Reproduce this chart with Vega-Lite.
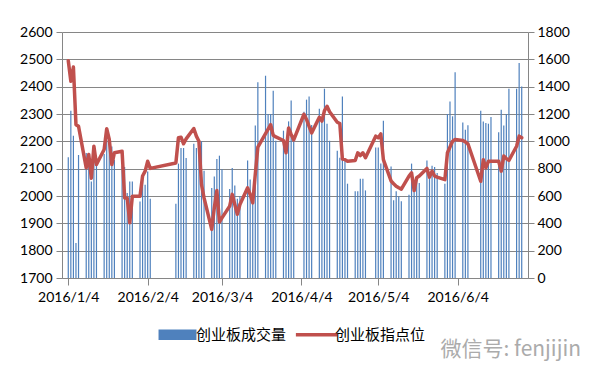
{
  "$schema": "https://vega.github.io/schema/vega-lite/v6.json",
  "width": 466,
  "height": 246,
  "autosize": {"type": "none"},
  "padding": {"left": 62, "top": 32, "right": 67, "bottom": 95},
  "background": "white",
  "title": {"text": "微信号: fenjijin", "orient": "bottom", "anchor": "end", "frame": "group", "font": "Noto Sans CJK SC", "fontSize": 21, "fontWeight": "normal", "color": "#ABABAB", "offset": -4, "dx": 53},
  "config": {
    "view": {"stroke": null},
    "axis": {"labelFont": "Lato", "labelFontSize": 14, "labelColor": "#000000", "domainColor": "#868686", "tickColor": "#868686", "gridColor": "#868686", "gridOpacity": 1, "domainWidth": 1, "tickWidth": 1, "gridWidth": 1, "tickSize": 6, "title": null}
  },
  "data": {"values": [
    {"date": "2016-01-04", "vol": 883, "idx": 2495},
    {"date": "2016-01-05", "vol": 1224, "idx": 2420},
    {"date": "2016-01-06", "vol": 1041, "idx": 2472},
    {"date": "2016-01-07", "vol": 256, "idx": 2261},
    {"date": "2016-01-08", "vol": 900, "idx": 2255},
    {"date": "2016-01-11", "vol": 915, "idx": 2103},
    {"date": "2016-01-12", "vol": 900, "idx": 2152},
    {"date": "2016-01-13", "vol": 707, "idx": 2065},
    {"date": "2016-01-14", "vol": 946, "idx": 2182},
    {"date": "2016-01-15", "vol": 829, "idx": 2115},
    {"date": "2016-01-18", "vol": 907, "idx": 2170},
    {"date": "2016-01-19", "vol": 1012, "idx": 2246},
    {"date": "2016-01-20", "vol": 1012, "idx": 2207},
    {"date": "2016-01-21", "vol": 963, "idx": 2115},
    {"date": "2016-01-22", "vol": 866, "idx": 2158},
    {"date": "2016-01-25", "vol": 817, "idx": 2164},
    {"date": "2016-01-26", "vol": 812, "idx": 1993},
    {"date": "2016-01-27", "vol": 622, "idx": 1993},
    {"date": "2016-01-28", "vol": 707, "idx": 1902},
    {"date": "2016-01-29", "vol": 707, "idx": 1999},
    {"date": "2016-02-01", "vol": 560, "idx": 1999},
    {"date": "2016-02-02", "vol": 750, "idx": 2073},
    {"date": "2016-02-03", "vol": 683, "idx": 2091},
    {"date": "2016-02-04", "vol": 780, "idx": 2127},
    {"date": "2016-02-05", "vol": 580, "idx": 2101},
    {"date": "2016-02-15", "vol": 544, "idx": 2121},
    {"date": "2016-02-16", "vol": 837, "idx": 2213},
    {"date": "2016-02-17", "vol": 951, "idx": 2215},
    {"date": "2016-02-18", "vol": 951, "idx": 2191},
    {"date": "2016-02-19", "vol": 878, "idx": 2209},
    {"date": "2016-02-22", "vol": 983, "idx": 2247},
    {"date": "2016-02-23", "vol": 951, "idx": 2219},
    {"date": "2016-02-24", "vol": 1012, "idx": 2200},
    {"date": "2016-02-25", "vol": 1000, "idx": 2042},
    {"date": "2016-02-26", "vol": 785, "idx": 1993},
    {"date": "2016-02-29", "vol": 658, "idx": 1878},
    {"date": "2016-03-01", "vol": 743, "idx": 1957},
    {"date": "2016-03-02", "vol": 870, "idx": 2020},
    {"date": "2016-03-03", "vol": 895, "idx": 1905},
    {"date": "2016-03-04", "vol": 795, "idx": 1920},
    {"date": "2016-03-07", "vol": 651, "idx": 1963},
    {"date": "2016-03-08", "vol": 805, "idx": 2006},
    {"date": "2016-03-09", "vol": 677, "idx": 1969},
    {"date": "2016-03-10", "vol": 580, "idx": 1933},
    {"date": "2016-03-11", "vol": 600, "idx": 1969},
    {"date": "2016-03-14", "vol": 859, "idx": 2030},
    {"date": "2016-03-15", "vol": 720, "idx": 2006},
    {"date": "2016-03-16", "vol": 560, "idx": 1975},
    {"date": "2016-03-17", "vol": 1115, "idx": 2080},
    {"date": "2016-03-18", "vol": 1432, "idx": 2179},
    {"date": "2016-03-21", "vol": 1480, "idx": 2228},
    {"date": "2016-03-22", "vol": 1200, "idx": 2245},
    {"date": "2016-03-23", "vol": 1200, "idx": 2261},
    {"date": "2016-03-24", "vol": 1371, "idx": 2222},
    {"date": "2016-03-25", "vol": 1005, "idx": 2216},
    {"date": "2016-03-28", "vol": 1078, "idx": 2203},
    {"date": "2016-03-29", "vol": 956, "idx": 2158},
    {"date": "2016-03-30", "vol": 1146, "idx": 2249},
    {"date": "2016-03-31", "vol": 1298, "idx": 2225},
    {"date": "2016-04-01", "vol": 1004, "idx": 2205},
    {"date": "2016-04-05", "vol": 1216, "idx": 2299},
    {"date": "2016-04-06", "vol": 1305, "idx": 2280},
    {"date": "2016-04-07", "vol": 1328, "idx": 2255},
    {"date": "2016-04-08", "vol": 1120, "idx": 2231},
    {"date": "2016-04-11", "vol": 1239, "idx": 2288},
    {"date": "2016-04-12", "vol": 1170, "idx": 2274},
    {"date": "2016-04-13", "vol": 1385, "idx": 2312},
    {"date": "2016-04-14", "vol": 1129, "idx": 2328},
    {"date": "2016-04-15", "vol": 1004, "idx": 2308},
    {"date": "2016-04-18", "vol": 932, "idx": 2270},
    {"date": "2016-04-19", "vol": 880, "idx": 2265},
    {"date": "2016-04-20", "vol": 1328, "idx": 2135},
    {"date": "2016-04-21", "vol": 860, "idx": 2133},
    {"date": "2016-04-22", "vol": 690, "idx": 2127},
    {"date": "2016-04-25", "vol": 634, "idx": 2130},
    {"date": "2016-04-26", "vol": 634, "idx": 2158},
    {"date": "2016-04-27", "vol": 727, "idx": 2148},
    {"date": "2016-04-28", "vol": 727, "idx": 2158},
    {"date": "2016-04-29", "vol": 641, "idx": 2140},
    {"date": "2016-05-03", "vol": 954, "idx": 2219},
    {"date": "2016-05-04", "vol": 954, "idx": 2213},
    {"date": "2016-05-05", "vol": 837, "idx": 2227},
    {"date": "2016-05-06", "vol": 1151, "idx": 2133},
    {"date": "2016-05-09", "vol": 815, "idx": 2055},
    {"date": "2016-05-10", "vol": 568, "idx": 2045},
    {"date": "2016-05-11", "vol": 634, "idx": 2036},
    {"date": "2016-05-12", "vol": 598, "idx": 2030},
    {"date": "2016-05-13", "vol": 561, "idx": 2025},
    {"date": "2016-05-16", "vol": 610, "idx": 2073},
    {"date": "2016-05-17", "vol": 837, "idx": 2085},
    {"date": "2016-05-18", "vol": 700, "idx": 2020},
    {"date": "2016-05-19", "vol": 744, "idx": 2067},
    {"date": "2016-05-20", "vol": 695, "idx": 2073},
    {"date": "2016-05-23", "vol": 859, "idx": 2101},
    {"date": "2016-05-24", "vol": 745, "idx": 2069},
    {"date": "2016-05-25", "vol": 822, "idx": 2091},
    {"date": "2016-05-26", "vol": 812, "idx": 2073},
    {"date": "2016-05-27", "vol": 768, "idx": 2069},
    {"date": "2016-05-30", "vol": 690, "idx": 2060},
    {"date": "2016-05-31", "vol": 1200, "idx": 2158},
    {"date": "2016-06-01", "vol": 1292, "idx": 2179},
    {"date": "2016-06-02", "vol": 1183, "idx": 2200},
    {"date": "2016-06-03", "vol": 1505, "idx": 2207},
    {"date": "2016-06-06", "vol": 1137, "idx": 2203},
    {"date": "2016-06-07", "vol": 1085, "idx": 2198},
    {"date": "2016-06-08", "vol": 1117, "idx": 2191},
    {"date": "2016-06-13", "vol": 1224, "idx": 2054},
    {"date": "2016-06-14", "vol": 1146, "idx": 2133},
    {"date": "2016-06-15", "vol": 1134, "idx": 2103},
    {"date": "2016-06-16", "vol": 1129, "idx": 2127},
    {"date": "2016-06-17", "vol": 1178, "idx": 2127},
    {"date": "2016-06-20", "vol": 1066, "idx": 2127},
    {"date": "2016-06-21", "vol": 1232, "idx": 2091},
    {"date": "2016-06-22", "vol": 1115, "idx": 2146},
    {"date": "2016-06-23", "vol": 1200, "idx": 2137},
    {"date": "2016-06-24", "vol": 1385, "idx": 2130},
    {"date": "2016-06-27", "vol": 1385, "idx": 2182},
    {"date": "2016-06-28", "vol": 1573, "idx": 2219},
    {"date": "2016-06-29", "vol": 1402, "idx": 2213}
  ]},
  "encoding": {
    "x": {
      "field": "date", "type": "temporal",
      "scale": {"type": "utc", "domain": [{"year": 2016, "month": 1, "date": 3, "hours": 12, "utc": true}, {"year": 2016, "month": 6, "date": 29, "hours": 12, "utc": true}]},
      "axis": {
        "values": [
          {"year": 2016, "month": 1, "date": 4, "utc": true},
          {"year": 2016, "month": 2, "date": 4, "utc": true},
          {"year": 2016, "month": 3, "date": 4, "utc": true},
          {"year": 2016, "month": 4, "date": 4, "utc": true},
          {"year": 2016, "month": 5, "date": 4, "utc": true},
          {"year": 2016, "month": 6, "date": 4, "utc": true}
        ],
        "labelExpr": "utcFormat(datum.value, '%Y/%-m/%-d')",
        "grid": false, "tickSize": 7, "labelPadding": 5, "labelAngle": 0, "labelFlush": false, "labelOverlap": false
      }
    }
  },
  "layer": [
    {
      "mark": {"type": "bar", "width": 1.2, "color": "#4F81BD"},
      "encoding": {
        "y": {"field": "vol", "type": "quantitative", "scale": {"domain": [0, 1800], "nice": false},
              "axis": {"orient": "right", "format": "d", "values": [0, 200, 400, 600, 800, 1000, 1200, 1400, 1600, 1800], "grid": false, "labelPadding": 3}},
        "color": {"datum": "创业板成交量", "type": "nominal",
                  "scale": {"domain": ["创业板成交量", "创业板指点位"], "range": ["#4F81BD", "#C0504D"]},
                  "legend": {
                    "orient": "none", "legendX": 108, "legendY": 295, "direction": "horizontal", "title": null,
                    "labelFont": "Noto Sans CJK SC", "labelFontSize": 15, "labelColor": "#000000",
                    "symbolSize": 1700, "labelOffset": 11, "columnPadding": 1, "padding": 0,
                    "encode": {"symbols": {"update": {
                      "shape": {"signal": "datum.value === '创业板成交量' ? 'M-0.92,-0.25H0.92V0.25H-0.92Z' : 'M-1,0H1'"},
                      "fill": {"signal": "datum.value === '创业板成交量' ? '#4F81BD' : 'transparent'"},
                      "stroke": {"signal": "datum.value === '创业板成交量' ? 'transparent' : '#C0504D'"},
                      "strokeWidth": {"signal": "datum.value === '创业板成交量' ? 0 : 3.5"},
                      "opacity": {"value": 1}
                    }}}
                  }}
      }
    },
    {
      "mark": {"type": "line", "strokeWidth": 3.5, "strokeJoin": "round", "strokeCap": "round"},
      "encoding": {
        "y": {"field": "idx", "type": "quantitative", "scale": {"domain": [1700, 2600], "nice": false},
              "axis": {"orient": "left", "format": "d", "values": [1700, 1800, 1900, 2000, 2100, 2200, 2300, 2400, 2500, 2600], "grid": true, "labelPadding": 4}},
        "color": {"datum": "创业板指点位", "type": "nominal"}
      }
    }
  ],
  "resolve": {"scale": {"y": "independent"}}
}
